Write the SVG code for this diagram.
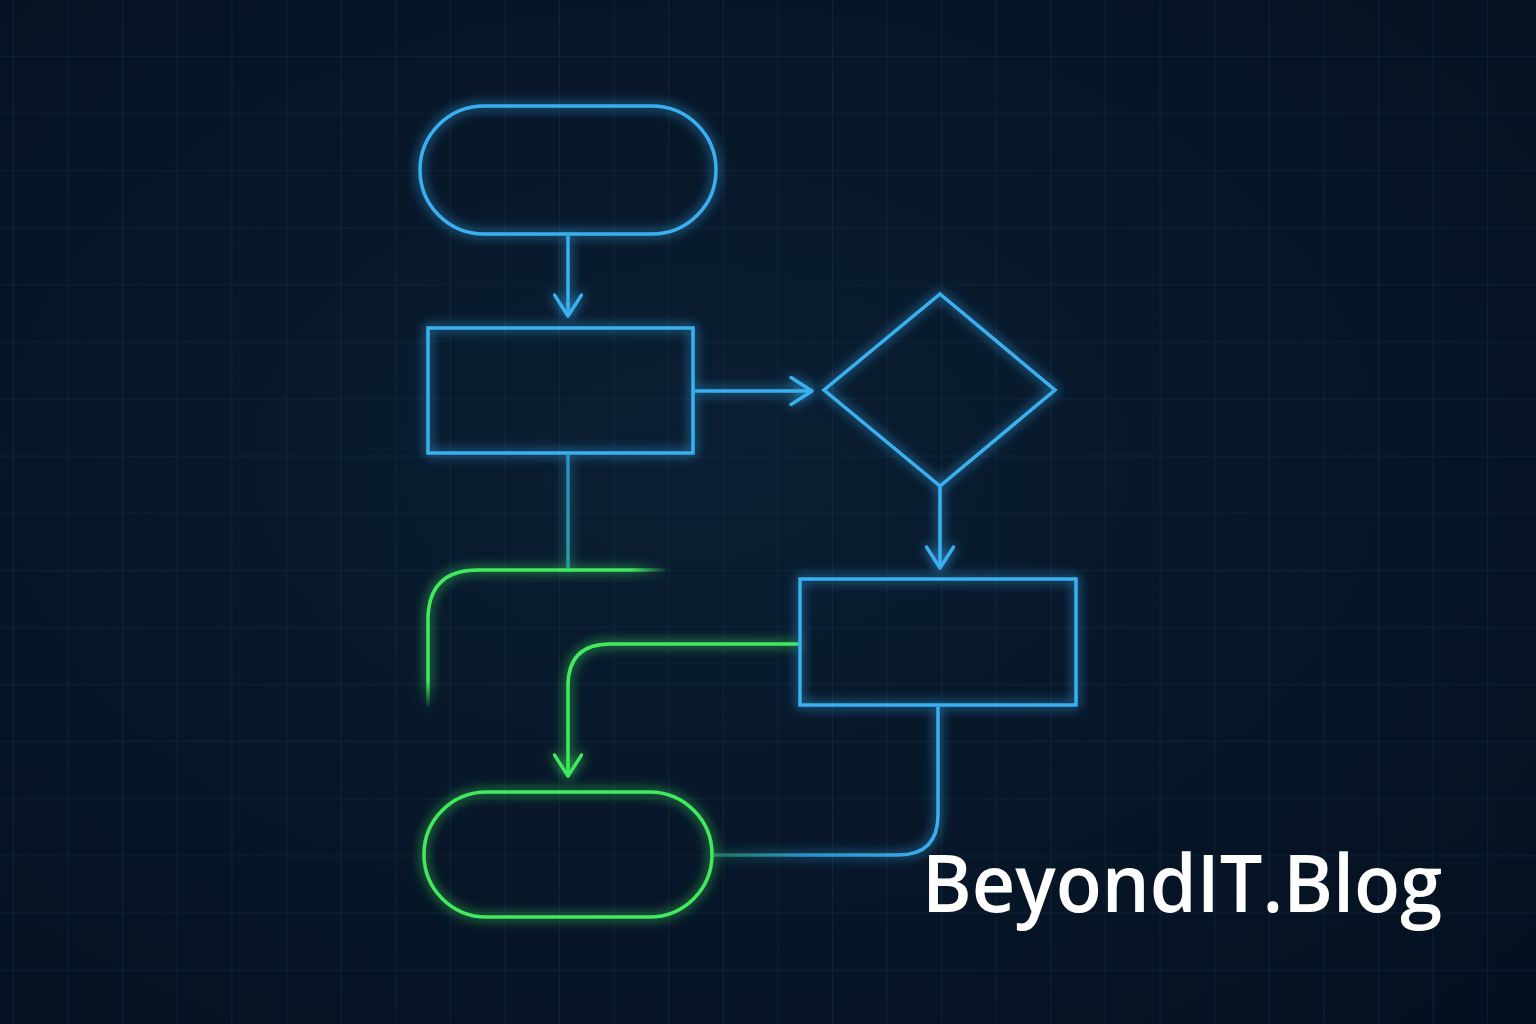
<svg xmlns="http://www.w3.org/2000/svg" width="1536" height="1024" viewBox="0 0 1536 1024">
<defs>
<radialGradient id="bg" cx="0.45" cy="0.45" r="0.75">
<stop offset="0" stop-color="#0a1e33"/>
<stop offset="1" stop-color="#04101f"/>
</radialGradient>
<pattern id="grid" x="13" y="56" width="54.6" height="57.1" patternUnits="userSpaceOnUse">
<path d="M0 0H54.6M0 0V57.1" fill="none" stroke="#17344d" stroke-width="1.2" opacity="0.75"/>
</pattern>
<filter id="glow" x="-20%" y="-20%" width="140%" height="140%">
<feGaussianBlur in="SourceGraphic" stdDeviation="6" result="b"/>
<feMerge><feMergeNode in="b"/><feMergeNode in="SourceGraphic"/></feMerge>
</filter>
<linearGradient id="fadeGreenH" gradientUnits="userSpaceOnUse" x1="478" y1="0" x2="668" y2="0">
<stop offset="0" stop-color="#42ea5e"/>
<stop offset="0.8" stop-color="#42ea5e"/>
<stop offset="1" stop-color="#42ea5e" stop-opacity="0"/>
</linearGradient>
<linearGradient id="fadeGreenV" gradientUnits="userSpaceOnUse" x1="0" y1="570" x2="0" y2="708">
<stop offset="0" stop-color="#42ea5e"/>
<stop offset="0.8" stop-color="#42ea5e"/>
<stop offset="1" stop-color="#42ea5e" stop-opacity="0"/>
</linearGradient>
<linearGradient id="tealV" gradientUnits="userSpaceOnUse" x1="0" y1="455" x2="0" y2="570">
<stop offset="0" stop-color="#2a8fc0"/>
<stop offset="1" stop-color="#2a9a9a"/>
</linearGradient>
<linearGradient id="blueToGreen" gradientUnits="userSpaceOnUse" x1="712" y1="0" x2="940" y2="0">
<stop offset="0" stop-color="#2f9e7a" stop-opacity="0.6"/>
<stop offset="0.4" stop-color="#2a90c8"/>
<stop offset="1" stop-color="#3ab0f0"/>
</linearGradient>
<marker id="arrB" viewBox="0 0 20 20" refX="17" refY="10" markerWidth="30" markerHeight="30" markerUnits="userSpaceOnUse" orient="auto">
<path d="M3 1L17 10L3 19" fill="none" stroke="#3ab0f0" stroke-width="2.2" stroke-linecap="round" stroke-linejoin="round"/>
</marker>
<marker id="arrG" viewBox="0 0 20 20" refX="17" refY="10" markerWidth="30" markerHeight="30" markerUnits="userSpaceOnUse" orient="auto">
<path d="M3 1L17 10L3 19" fill="none" stroke="#42ea5e" stroke-width="2.2" stroke-linecap="round" stroke-linejoin="round"/>
</marker>
</defs>
<style>
.blue{fill:none;stroke:#3ab0f0;stroke-width:3.5}
.green{fill:none;stroke:#42ea5e;stroke-width:3.5}
.lbl{font-family:"Open Sans","Noto Sans","DejaVu Sans",sans-serif;font-size:80px;font-weight:600;fill:#ffffff}
</style>
<rect width="1536" height="1024" fill="url(#bg)"/>
<rect width="1536" height="1024" fill="url(#grid)"/>
<g id="connectors" filter="url(#glow)">
<path class="blue" d="M568 236V316" marker-end="url(#arrB)"/>
<path class="blue" d="M695 391H812" marker-end="url(#arrB)"/>
<path class="blue" d="M940 487V568" marker-end="url(#arrB)"/>
<path d="M568 455V570" fill="none" stroke="url(#tealV)" stroke-width="3.5"/>
<path d="M668 570H477" fill="none" stroke="url(#fadeGreenH)" stroke-width="3.5"/>
<path d="M478 570Q428 570 428 620V708" fill="none" stroke="url(#fadeGreenV)" stroke-width="3.5"/>
<path class="green" d="M800 644H610Q568 644 568 686V776" marker-end="url(#arrG)"/>
<path d="M938 707V815Q938 855 898 855H714" fill="none" stroke="url(#blueToGreen)" stroke-width="3.5"/>
</g>
<g id="start" filter="url(#glow)">
<rect class="blue" x="420" y="106" width="296" height="128" rx="64"/>
</g>
<g id="process1" filter="url(#glow)">
<rect class="blue" x="428" y="328" width="265" height="125"/>
</g>
<g id="decision" filter="url(#glow)">
<path class="blue" d="M940 294L1055 390L940 486L824 390Z"/>
</g>
<g id="process2" filter="url(#glow)">
<rect class="blue" x="800" y="579" width="276" height="126"/>
</g>
<g id="end" filter="url(#glow)">
<rect class="green" x="424" y="792" width="288" height="125" rx="62.5"/>
</g>
<g id="brand">
<text class="lbl" x="922" y="912" textLength="520" lengthAdjust="spacingAndGlyphs">BeyondIT.Blog</text>
</g>
</svg>
